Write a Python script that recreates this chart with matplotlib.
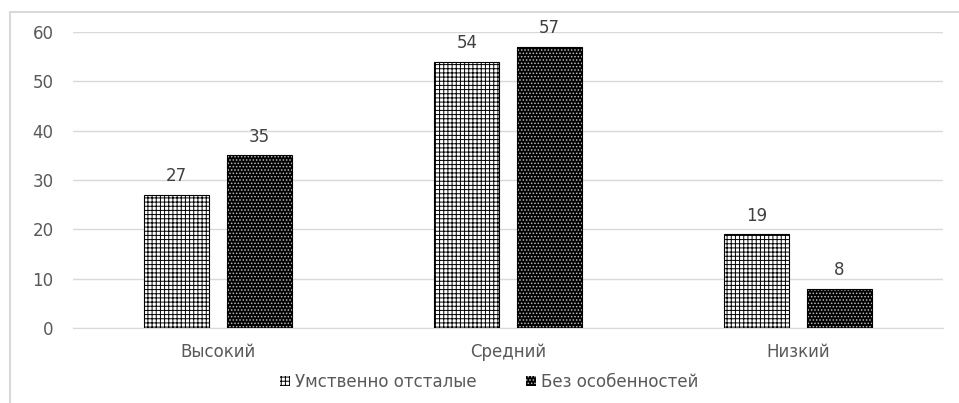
import matplotlib.pyplot as plt
import matplotlib as mpl
import numpy as np
from matplotlib.patches import Rectangle

mpl.rcParams['font.family'] = ['DejaVu Sans']
mpl.rcParams['hatch.linewidth'] = 0.7

categories = ['Высокий', 'Средний', 'Низкий']
series_names = ['Умственно отсталые', 'Без особенностей']
retarded = [27, 54, 19]
normal = [35, 57, 8]
yticks = [0, 10, 20, 30, 40, 50, 60]

fig = plt.figure(figsize=(9.59, 4.03), dpi=100)
ax = fig.add_axes([0.0761, 0.1861, 0.9072, 0.7345])

# frame of the chart area
fig.patches.append(Rectangle((0.0105, -0.05), 1.2, 1.02, transform=fig.transFigure,
                             fill=False, edgecolor='#d9d9d9', linewidth=1.5))

x = np.arange(len(categories))
w = 0.225
off = 0.142

b1 = ax.bar(x - off, retarded, w, facecolor='white', edgecolor='black', hatch='++++', linewidth=0.8, zorder=3)
b2 = ax.bar(x + off, normal, w, facecolor='black', edgecolor='#bbbbbb', hatch='.....', linewidth=0, zorder=3)
ax.bar(x + off, normal, w, fill=False, edgecolor='black', linewidth=0.8, zorder=4)

for bars, vals in ((b1, retarded), (b2, normal)):
    for r, v in zip(bars, vals):
        ax.annotate(str(v), (r.get_x() + r.get_width() / 2, v), xytext=(0, 7),
                    textcoords='offset points', ha='center', va='bottom',
                    fontsize=12, color='#404040', annotation_clip=False)

ax.set_xlim(-0.5, 2.5)
ax.set_ylim(0, 60)
ax.set_yticks(yticks)
ax.set_xticks(x)
ax.set_xticklabels(categories)
ax.tick_params(axis='both', length=0, labelsize=12, labelcolor='#595959')
ax.tick_params(axis='y', pad=14)
ax.tick_params(axis='x', pad=11)
ax.yaxis.grid(True, color='#d9d9d9', linewidth=1)
ax.set_axisbelow(True)
for s in ax.spines.values():
    s.set_visible(False)
ax.spines['bottom'].set_visible(True)
ax.spines['bottom'].set_color('#d9d9d9')

h1 = Rectangle((0, 0), 1, 1, facecolor='white', edgecolor='black', hatch='++++', linewidth=0)
h2 = Rectangle((0, 0), 1, 1, facecolor='black', edgecolor='#bbbbbb', hatch='.....', linewidth=0)
fig.legend([h1, h2], series_names, loc='center', bbox_to_anchor=(0.51, 0.052), ncol=2,
           frameon=False, fontsize=12, handlelength=0.6, handleheight=0.6,
           handletextpad=0.3, columnspacing=3.0, labelcolor='#595959')

plt.savefig('out.png', dpi=100)
